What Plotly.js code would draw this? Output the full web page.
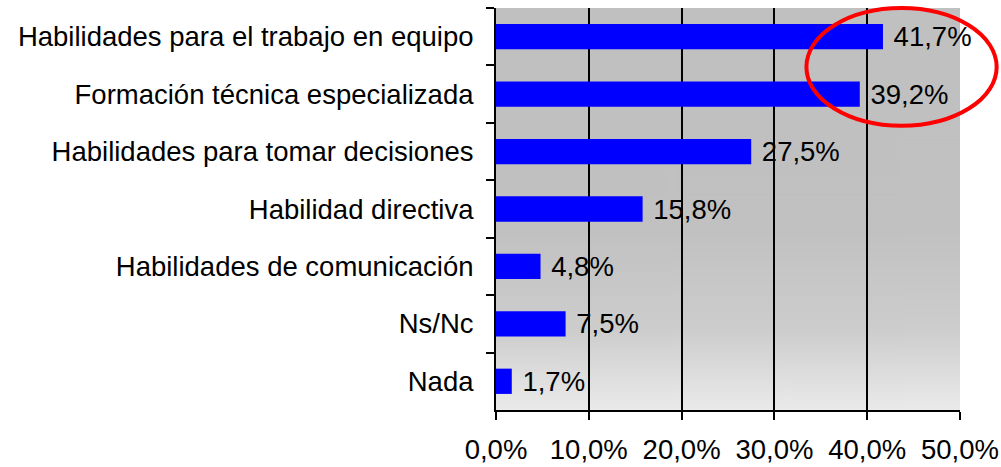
<!DOCTYPE html>
<html>
<head>
<meta charset="utf-8">
<script src="https://cdn.plot.ly/plotly-3.0.1.min.js"></script>
<style>html,body{margin:0;padding:0;background:#fff;}#chart{width:1001px;height:467px;}</style>
</head>
<body>
<div id="chart"></div>
<script>
const categories = [
  "Habilidades para el trabajo en equipo",
  "Formación técnica especializada",
  "Habilidades para tomar decisiones",
  "Habilidad directiva",
  "Habilidades de comunicación",
  "Ns/Nc",
  "Nada"
];
const values = [41.7, 39.2, 27.5, 15.8, 4.8, 7.5, 1.7];
const xTicks = [0, 10, 20, 30, 40, 50];
const xTickLabels = ["0,0%", "10,0%", "20,0%", "30,0%", "40,0%", "50,0%"];

// gradient background image
function gradientURL() {
  const c = document.createElement('canvas');
  c.width = 4; c.height = 400;
  const g = c.getContext('2d');
  const grd = g.createLinearGradient(0, 0, 0, 400);
  grd.addColorStop(0, '#c0c0c0');
  grd.addColorStop(0.55, '#c1c1c1');
  grd.addColorStop(0.8, '#cdcdcd');
  grd.addColorStop(1, '#eaeaea');
  g.fillStyle = grd;
  g.fillRect(0, 0, 4, 400);
  return c.toDataURL('image/png');
}

const font = {family: 'Liberation Sans, Arial, sans-serif', size: 27.5, color: '#000'};

const trace = {
  type: 'bar',
  orientation: 'h',
  y: categories,
  x: values,
  width: 0.44,
  marker: {color: '#0000ff', line: {width: 0}},
  texttemplate: ' %{x:.1f}%',
  textposition: 'outside',
  constraintext: 'none',
  cliponaxis: false,
  textfont: font,
  hoverinfo: 'skip'
};

const layout = {
  width: 1001, height: 467,
  margin: {l: 496, r: 41, t: 8, b: 57, pad: 0},
  paper_bgcolor: '#ffffff',
  plot_bgcolor: 'rgba(0,0,0,0)',
  separators: ',.',
  showlegend: false,
  font: font,
  bargap: 0.56,
  xaxis: {
    range: [0, 50],
    tickmode: 'array',
    tickvals: xTicks,
    ticktext: xTickLabels,
    ticks: 'outside', ticklen: 8, tickwidth: 2, tickcolor: '#000',
    showgrid: true, gridcolor: '#000', gridwidth: 2,
    showline: true, linecolor: '#000', linewidth: 2,
    zeroline: false,
    tickfont: font,
    ticklabelstandoff: 6,
    fixedrange: true
  },
  yaxis: {
    type: 'category',
    autorange: 'reversed',
    tickson: 'boundaries',
    ticks: 'outside', ticklen: 8, tickwidth: 2, tickcolor: '#000',
    showline: true, linecolor: '#000', linewidth: 2,
    showgrid: false,
    tickfont: font,
    ticklabelstandoff: 15,
    fixedrange: true
  },
  images: [{
    source: gradientURL(),
    xref: 'paper', yref: 'paper',
    x: 0, y: 1, sizex: 1, sizey: 1,
    sizing: 'stretch', layer: 'below',
    xanchor: 'left', yanchor: 'top'
  }],
  shapes: [{
    type: 'circle', xref: 'paper', yref: 'paper',
    x0: 0.669, x1: 1.079, y0: 0.707, y1: 1.0,
    line: {color: '#ff0000', width: 4},
    fillcolor: 'rgba(0,0,0,0)'
  }]
};

Plotly.newPlot('chart', [trace], layout, {displayModeBar: false, staticPlot: true});
</script>
</body>
</html>
